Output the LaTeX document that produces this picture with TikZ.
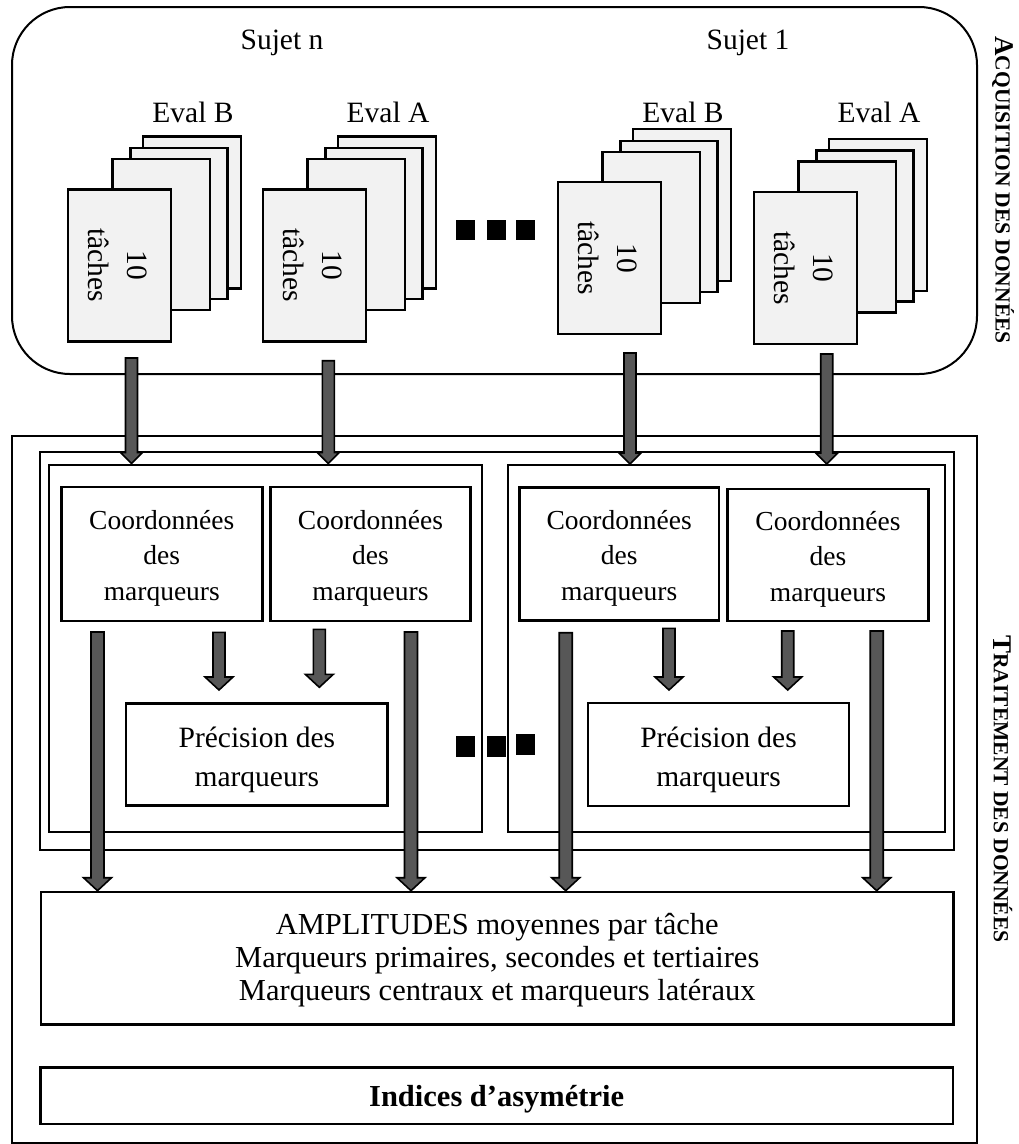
\documentclass[tikz,border=0pt]{standalone}
\usepackage{fontspec}
\setmainfont{Liberation Serif}
\usetikzlibrary{calc}
\definecolor{pagefill}{HTML}{F2F2F2}
\definecolor{arrgray}{HTML}{575757}
\tikzset{
  frame/.style={draw=black, line width=2pt, inner sep=0pt},
  pg/.style={draw=black, line width=2.3pt, fill=pagefill, inner sep=0pt},
  bx/.style={draw=black, line width=2.6pt, inner sep=0pt, align=center},
  txt/.style={align=center, inner sep=0pt},
  blk/.style={fill=arrgray, draw=black, line width=1.6pt, line join=miter},
  sq/.style={fill=black, draw=none},
  lbl/.style={font=\fontsize{29.5pt}{36pt}\selectfont, inner sep=0pt},
  coordtxt/.style={txt, font=\fontsize{27.5pt}{35.5pt}\selectfont},
  prectxt/.style={txt, font=\fontsize{29.5pt}{39pt}\selectfont},
  bigtxt/.style={txt, font=\fontsize{30.5pt}{33pt}\selectfont},
  tachetxt/.style={font=\fontsize{29.5pt}{39pt}\selectfont, rotate=-90, align=center, inner sep=0pt},
  sidelbl/.style={rotate=-90, inner sep=0pt, font=\bfseries}
}
% block arrow: start, end, shaft half-width, head half-width, head length
\newcommand\blockarrow[5]{%
  \draw[blk] let \p1=(#1), \p2=(#2) in
    (\x1-#3,\y1) -- (\x1-#3,\y2+#5) -- (\x1-#4,\y2+#5) -- (\x1,\y2) --
    (\x1+#4,\y2+#5) -- (\x1+#3,\y2+#5) -- (\x1+#3,\y1) -- cycle;}
% stack of pages: name, x, y (front page top-left), label, label x
\newcommand\pagestack[5]{%
  \node[pg, anchor=north west, minimum width=98pt, minimum height=152pt] (#1p4) at (#2+75,#3-53) {};
  \node[pg, anchor=north west, minimum width=97pt, minimum height=151pt] (#1p3) at (#2+62.5,#3-41.5) {};
  \node[pg, anchor=north west, minimum width=97.5pt, minimum height=151pt] (#1p2) at (#2+44.5,#3-30.5) {};
  \node[pg, anchor=north west, minimum width=103pt, minimum height=152pt] (#1f) at (#2,#3) {};
  \node[tachetxt] (#1t) at ([xshift=-2pt]#1f.center) {10\\tâches};
  \node[lbl] (#1l) at (#5,112) {#4};
}
\begin{document}
\begin{tikzpicture}[x=1pt,y=-1pt]
\useasboundingbox (0,0) rectangle (1019,1144);
\fill[white] (0,0) rectangle (1019,1144);

% ---------- Acquisition ----------
\node[frame, rounded corners=58pt, minimum width=965pt, minimum height=367pt] (acq) at (494.5,190.5) {};
\node[lbl] (sujn) at (282,43) {Sujet n};
\node[lbl] (suj1) at (748,43) {Sujet 1};

\pagestack{sa}{66.7}{188.3}{Eval B}{193}
\pagestack{sb}{261.7}{188.3}{Eval A}{388}
\pagestack{sc}{556.7}{181}{Eval B}{683}
\pagestack{sd}{752.7}{190.7}{Eval A}{879}

\fill[sq] (456,219.5) rectangle (474.5,240);
\fill[sq] (487,219.5) rectangle (505.5,240);
\fill[sq] (516,219.5) rectangle (534.5,240);

% ---------- Traitement ----------
\node[frame, minimum width=965pt, minimum height=707pt] (trt) at (494.5,789.5) {};
\node[frame, minimum width=914.5pt, minimum height=398pt] (mid) at (496.75,651) {};
\node[frame, minimum width=432.4pt, minimum height=367.2pt] (grpL) at (265.5,648.1) {};
\node[frame, minimum width=436.7pt, minimum height=367pt] (grpR) at (726.65,648.5) {};

\node[bx, minimum width=201pt, minimum height=134pt] (c1) at (161.8,554) {};
\node[bx, minimum width=200.4pt, minimum height=134pt] (c2) at (370.5,554) {};
\node[bx, minimum width=199.7pt, minimum height=133.4pt] (c3) at (619.15,554) {};
\node[bx, minimum width=200.6pt, minimum height=132pt] (c4) at (828,555) {};
\node[coordtxt] (c1t) at ([yshift=-4pt]c1.center) {Coordonnées\\des\\marqueurs};
\node[coordtxt] (c2t) at ([yshift=-4pt]c2.center) {Coordonnées\\des\\marqueurs};
\node[coordtxt] (c3t) at ([yshift=-4pt]c3.center) {Coordonnées\\des\\marqueurs};
\node[coordtxt] (c4t) at ([yshift=-4pt]c4.center) {Coordonnées\\des\\marqueurs};

\node[bx, minimum width=261.7pt, minimum height=102.4pt] (p1) at (256.85,754.5) {};
\node[bx, minimum width=261pt, minimum height=103pt] (p2) at (718.5,754.5) {};
\node[prectxt] (p1t) at ([yshift=-5pt]p1.center) {Précision des\\marqueurs};
\node[prectxt] (p2t) at ([yshift=-5pt]p2.center) {Précision des\\marqueurs};

\node[bx, minimum width=912.5pt, minimum height=132.3pt] (amp) at (497.25,958.15) {};
\node[bigtxt] (ampt) at ([yshift=-2pt]amp.center)
  {AMPLITUDES moyennes par tâche\\Marqueurs primaires, secondes et tertiaires\\Marqueurs centraux et marqueurs latéraux};
\node[bx, minimum width=912.7pt, minimum height=56.7pt] (ind) at (496.65,1095.65) {};
\node[txt, font=\fontsize{30.5pt}{33pt}\selectfont\bfseries] (indt) at ([yshift=-4pt]ind.center) {Indices d’asymétrie};

\fill[sq] (456,736) rectangle (474.5,756.5);
\fill[sq] (487,736) rectangle (505.5,756.5);
\fill[sq] (516,734) rectangle (534.5,755);

% ---------- arrows ----------
\coordinate (t1) at (131.5,358);
\coordinate (t2) at (328.3,360.7);
\coordinate (t3) at (630,353);
\coordinate (t4) at (826.7,354);
\blockarrow{t1}{t1 |- grpL.north}{6pt}{11pt}{11pt}
\blockarrow{t2}{t2 |- grpL.north}{6pt}{11pt}{11pt}
\blockarrow{t3}{t3 |- grpR.north}{6pt}{11pt}{11pt}
\blockarrow{t4}{t4 |- grpR.north}{6pt}{11pt}{11pt}

\coordinate (s1) at (219,632.3);   \coordinate (e1) at (219,690);
\coordinate (s2) at (319.3,629.3); \coordinate (e2) at (319.3,687.3);
\coordinate (s3) at (669,628.3);   \coordinate (e3) at (669,690);
\coordinate (s4) at (787.7,631);   \coordinate (e4) at (787.7,690);
\blockarrow{s1}{e1}{6pt}{14pt}{13pt}
\blockarrow{s2}{e2}{6pt}{14pt}{13pt}
\blockarrow{s3}{e3}{6pt}{14pt}{13pt}
\blockarrow{s4}{e4}{6pt}{14pt}{13pt}

\coordinate (l1) at (97.5,632);
\coordinate (l2) at (411,632);
\coordinate (l3) at (565.7,632.7);
\coordinate (l4) at (876.7,631);
\blockarrow{l1}{l1 |- amp.north}{6.5pt}{14pt}{13pt}
\blockarrow{l2}{l2 |- amp.north}{6.5pt}{14pt}{13pt}
\blockarrow{l3}{l3 |- amp.north}{6.5pt}{14pt}{13pt}
\blockarrow{l4}{l4 |- amp.north}{6.5pt}{14pt}{13pt}

% ---------- side labels ----------
\node[sidelbl] (lacq) at (1003,190) {{\fontsize{27pt}{27pt}\selectfont A}{\fontsize{21.5pt}{21.5pt}\selectfont CQUISITION DES DONNÉES}};
\node[sidelbl] (ltrt) at (1003,789) {{\fontsize{27pt}{27pt}\selectfont T}{\fontsize{21.5pt}{21.5pt}\selectfont RAITEMENT DES DONNÉES}};
\end{tikzpicture}
\end{document}
